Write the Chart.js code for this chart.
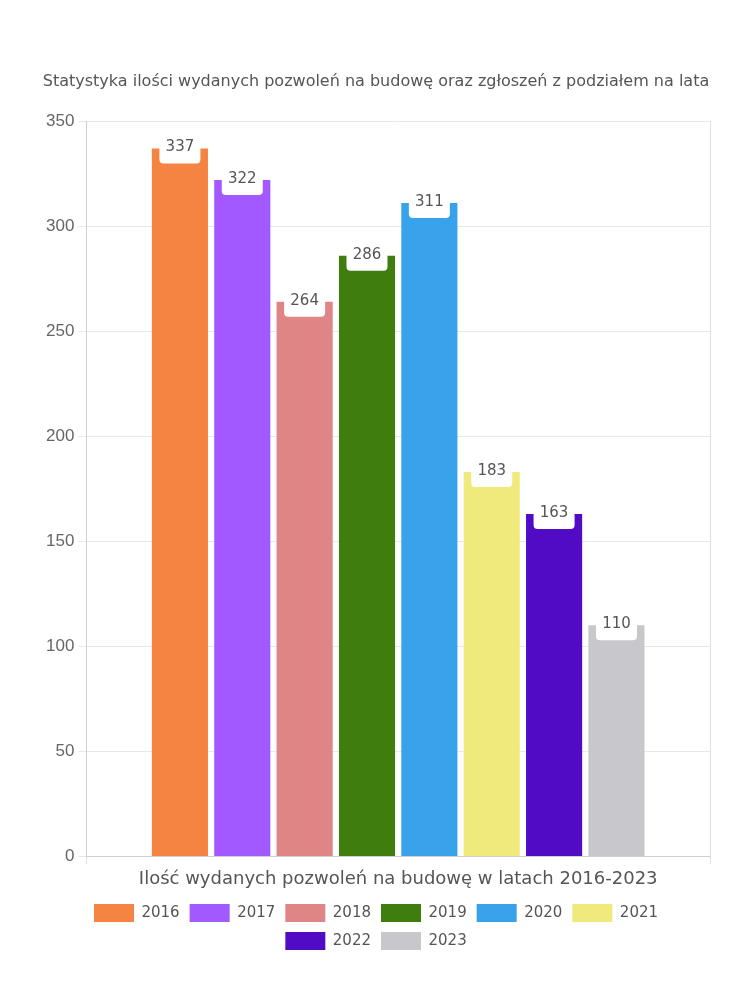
<!DOCTYPE html>
<html>
<head>
<meta charset="utf-8">
<script src="https://cdn.jsdelivr.net/npm/chart.js@4"></script>
<style>
    body { margin: 0; background: #fff; }
    #wrap { width: 750px; height: 1000px; }
</style>
</head>
<body>
<div id="wrap"><canvas id="permits-chart"></canvas></div>
<script>
var category = ["Ilość wydanych pozwoleń na budowę w latach 2016-2023"]
var years = ["2016", "2017", "2018", "2019", "2020", "2021", "2022", "2023"]
var permits = [337, 322, 264, 286, 311, 183, 163, 110]
var colors = ["#f58442", "#a259ff", "#e08585", "#3f7d0e", "#38a3eb", "#f0ea7c", "#520bc4", "#c8c8cc"]
var yTicks = [0, 50, 100, 150, 200, 250, 300, 350]

var datasets = []
for (var i = 0; i < years.length; i++) {
    datasets.push({
        label: years[i],
        data: [permits[i]],
        backgroundColor: colors[i],
        borderColor: colors[i],
        borderWidth: 0
    })
}

// white value boxes on top of each bar
var valueLabels = {
    id: "valueLabels",
    afterDatasetsDraw: function (chart) {
        var ctx = chart.ctx
        ctx.save()
        chart.data.datasets.forEach(function (ds, i) {
            var bar = chart.getDatasetMeta(i).data[0]
            var w = 41, top = bar.y - 16, h = 31
            ctx.fillStyle = "#fff"
            ctx.beginPath()
            ctx.roundRect(bar.x - w / 2, top, w, h, 4)
            ctx.fill()
            ctx.fillStyle = "#555"
            ctx.font = "15px 'DejaVu Sans'"
            ctx.textAlign = "center"
            ctx.textBaseline = "middle"
            ctx.fillText(ds.data[0], bar.x, bar.y - 1)
        })
        ctx.restore()
    }
}

var chart = new Chart(document.getElementById("permits-chart"), {
    type: "bar",
    data: { labels: category, datasets: datasets },
    plugins: [valueLabels],
    options: {
        responsive: true,
        maintainAspectRatio: false,
        animation: false,
        layout: { padding: { top: 72, right: 40, left: 42, bottom: 40 } },
        scales: {
            x: {
                grid: { color: "#e0e0e0", tickLength: 8 },
                border: { color: "#d0d0d0" },
                ticks: { color: "#555", padding: 4, font: { family: "'DejaVu Sans'", size: 18 } }
            },
            y: {
                min: 0,
                max: 350,
                afterBuildTicks: function (axis) {
                    axis.ticks = yTicks.map(function (v) { return { value: v } })
                },
                grid: { color: "#e8e8e8", tickLength: 8 },
                border: { color: "#d0d0d0" },
                ticks: { color: "#666", padding: 4, font: { family: "'Liberation Sans'", size: 17 } }
            }
        },
        plugins: {
            title: {
                display: true,
                text: "Statystyka ilości wydanych pozwoleń na budowę oraz zgłoszeń z podziałem na lata",
                color: "#555",
                font: { family: "'DejaVu Sans'", size: 16, weight: "normal" },
                padding: { top: 0, bottom: 30 }
            },
            legend: {
                position: "bottom",
                labels: {
                    color: "#555",
                    boxWidth: 40,
                    boxHeight: 18,
                    padding: 10,
                    font: { family: "'DejaVu Sans'", size: 15 }
                }
            },
            tooltip: { enabled: false }
        }
    }
})
</script>
</body>
</html>
